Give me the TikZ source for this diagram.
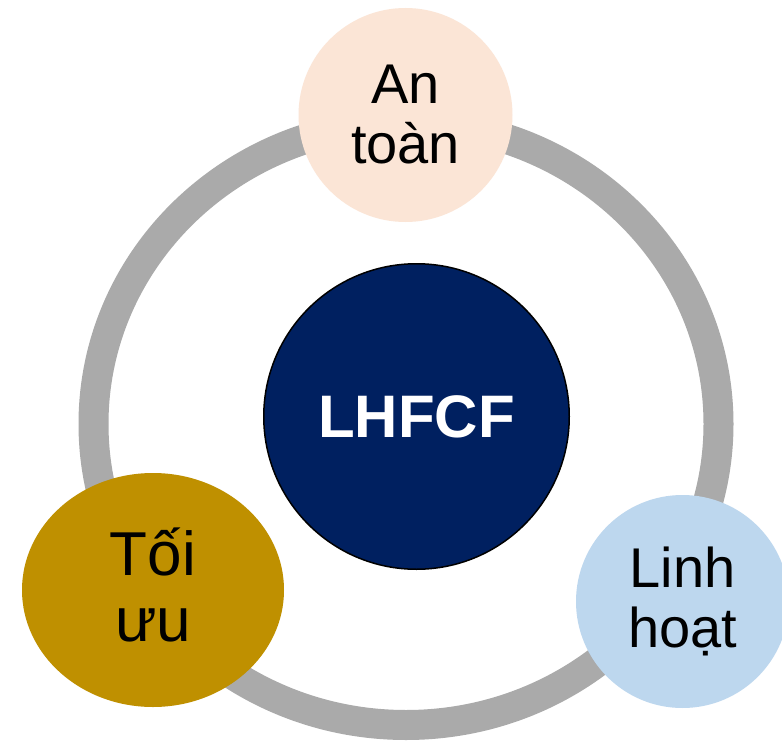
\documentclass[tikz,border=0pt]{standalone}
\usepackage{fontspec}
\setmainfont{Liberation Sans}
\usetikzlibrary{shapes.geometric}
\definecolor{ringgray}{HTML}{AAAAAA}
\definecolor{peach}{HTML}{FBE5D6}
\definecolor{gold}{HTML}{BF9000}
\definecolor{lightblue}{HTML}{BDD7EE}
\definecolor{navy}{HTML}{002060}
\tikzset{
  ring/.style={draw=ringgray, line width=30pt},
  petal/.style={circle, inner sep=0pt, draw=none, align=center, text=black,
    font=\fontsize{56}{60}\selectfont},
  lbl/.style={inner sep=0pt, align=center, text=black},
  hub/.style={circle, inner sep=0pt, fill=navy, draw=black, line width=1.5pt,
    minimum size=305.5pt, text=white, font=\fontsize{60}{64}\selectfont\bfseries}
}
\begin{document}
\begin{tikzpicture}[x=1pt,y=-1pt]
  \useasboundingbox (0,0) rectangle (782,741);
  \clip (0,0) rectangle (782,741);
  \fill[white] (0,0) rectangle (782,741);
  \coordinate (rc) at (406,424);
  \draw[ring] (rc) ellipse [x radius=312.5, y radius=301];
  \node[hub] (hub) at (416.5,416.5) {LHFCF};
  \node[petal, fill=peach, minimum size=214pt] (antoan) at (405.5,115) {An\\toàn};
  \node[petal, ellipse, fill=gold, minimum width=262pt, minimum height=234pt] (toiuu) at (153,590) {};
  \node[lbl, font=\fontsize{62}{66}\selectfont] (toiuuT) at ([yshift=5pt]toiuu.center) {Tối\\ưu};
  \node[petal, fill=lightblue, minimum size=213pt] (linhhoat) at (682.5,601.5) {Linh\\hoạt};
\end{tikzpicture}
\end{document}
